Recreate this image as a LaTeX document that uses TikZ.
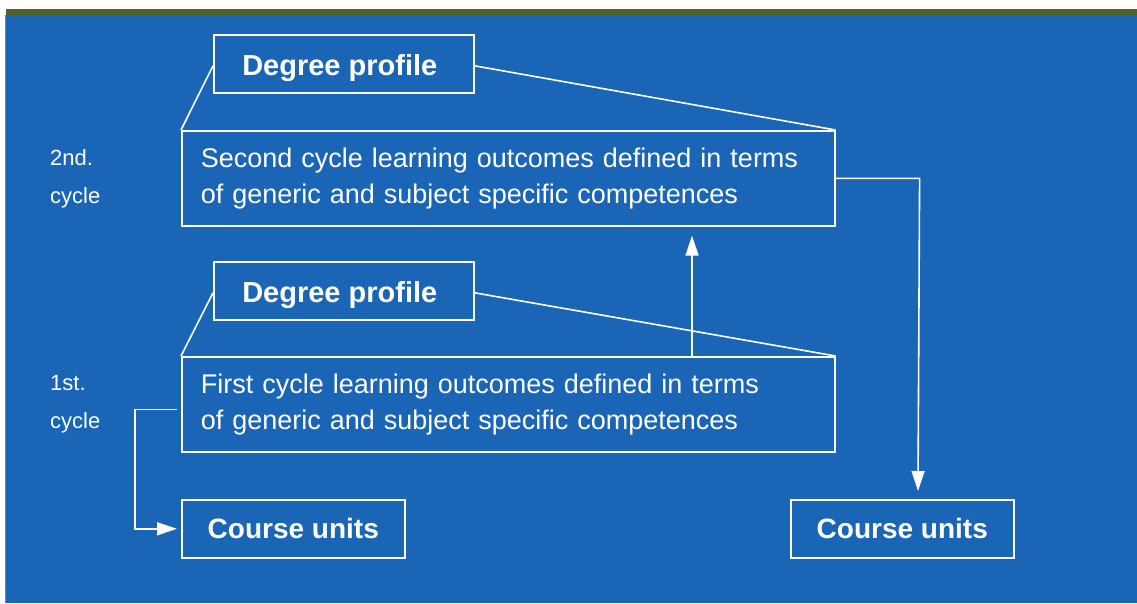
\documentclass[tikz,border=0pt]{standalone}
\usepackage{fontspec}
\setmainfont{Liberation Sans}
\usetikzlibrary{arrows.meta,calc}
\definecolor{bgblue}{HTML}{1A65B5}
\definecolor{olive}{HTML}{4F6229}
\begin{document}
\begin{tikzpicture}[x=1pt,y=-1pt,
  box/.style={draw=white,line width=1.6pt,rectangle,anchor=north west,text=white,inner sep=0pt},
  bigbox/.style={box,minimum width=653pt,minimum height=95pt,text width=615pt,align=left,
     font=\fontsize{27}{35.5}\selectfont},
  dpbox/.style={box,minimum width=260pt,minimum height=58pt,text height=26pt,text depth=2pt,
     font=\fontsize{29}{30}\selectfont\bfseries},
  cubox/.style={box,minimum width=223pt,minimum height=58pt,font=\fontsize{28}{30}\selectfont\bfseries},
  lab/.style={text=white,anchor=north west,inner sep=0pt,align=left,font=\fontsize{22}{38}\selectfont},
  conn/.style={draw=white,line width=1.6pt},
  arr/.style={conn,-{Triangle[length=20pt,width=13pt]}}]
\useasboundingbox (0,0) rectangle (1137,603);
\fill[white] (0,0) rectangle (1137,603);
\fill[olive] (6,9) rectangle (1137,15);
\fill[bgblue] (6,15) rectangle (1137,603);
\draw[gray,line width=1pt] (5.5,15) -- (5.5,603);

\node[dpbox] (dp2) at (213,34) {\hspace*{-8pt}Degree profile};
\node[bigbox] (c2) at (181,130) {Second cycle learning outcomes defined in terms\\of generic and subject specific competences};
\node[dpbox] (dp1) at (213,261) {\hspace*{-8pt}Degree profile};
\node[bigbox] (c1) at (181,356) {First cycle learning outcomes defined in terms\\of generic and subject specific competences};
\node[cubox] (cu1) at (181,499) {Course units};
\node[cubox] (cu2) at (790,499) {Course units};

\node[lab] (l2) at (50,149) {2nd.\\cycle};
\node[lab] (l1) at (50,375) {1st.\\cycle};

\draw[conn] ([yshift=-2pt]dp2.west) -- (c2.north west);
\draw[conn] ([yshift=-2pt]dp2.east) -- (c2.north east);
\draw[conn] ([yshift=-2pt]dp1.west) -- (c1.north west);
\draw[conn] ([yshift=-2pt]dp1.east) -- (c1.north east);

\coordinate (up) at ($(c1.north west)+(511,0)$);
\draw[arr] (up) -- ($(c2.south west)+(511,9)$);

\coordinate (r1) at ($(c2.east)+(84,0)$);
\draw[arr] (c2.east) -- (r1) -- ($(cu2.north west)+(128,-8)$);

\coordinate (s1) at ($(c1.west)+(-4,5)$);
\coordinate (s2) at ($(c1.west)+(-46,5)$);
\draw[arr] (s1) -- (s2) |- ($(cu1.west)+(-4,0)$);
\end{tikzpicture}
\end{document}
